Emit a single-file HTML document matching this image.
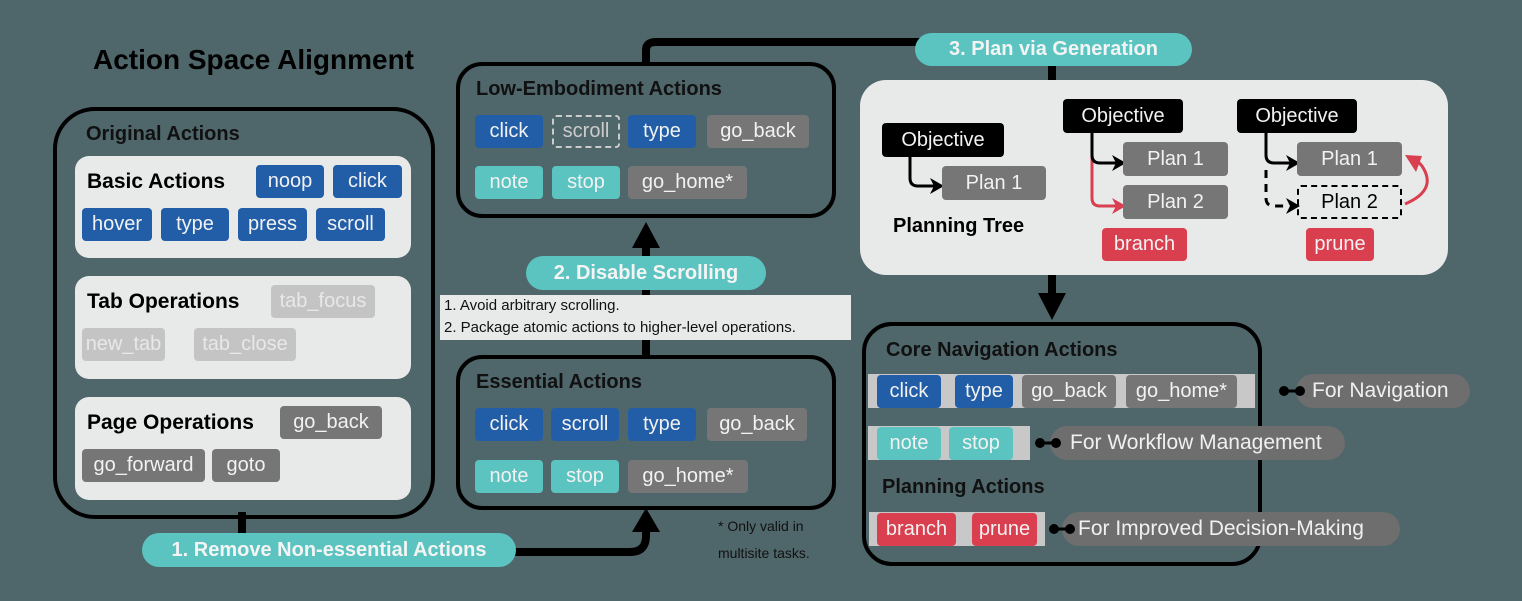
<!DOCTYPE html>
<html><head><meta charset="utf-8"><style>
*{margin:0;padding:0;box-sizing:border-box}
body{width:1522px;height:601px;background:#4f666b;position:relative;overflow:hidden;font-family:"Liberation Sans",sans-serif}
.a{position:absolute}
.t{position:absolute;font-weight:bold;color:#000;white-space:nowrap}
.c{position:absolute;height:33px;border-radius:4px;color:#f2f2f2;font-size:20px;display:flex;align-items:center;justify-content:center;white-space:nowrap}
.b{background:#225ea8}.g{background:#767676}.l{background:#c4c4c4;color:#e8e8e8}.n{background:#5bc4c0}.r{background:#d93f4f}.k{background:#000}
.p{position:absolute;background:#e8e9e9;border-radius:14px}
.box{position:absolute;border:4px solid #000;}
.pill{position:absolute;background:#5bc4c0;color:#f4f4f4;font-weight:bold;font-size:20px;border-radius:17px;display:flex;align-items:center;justify-content:center;white-space:nowrap}
.gp{position:absolute;background:#6e6e6e;color:#f0f0f0;font-size:21px;border-radius:17px;display:flex;align-items:center;padding-left:14px;white-space:nowrap;height:34px}
.s{position:absolute;background:#c8c8c8;height:34px}
</style></head><body>
<svg class="a" style="left:0;top:0" width="1522" height="601">
<g stroke="#000" stroke-width="8" fill="none">
<path d="M242 512 V540"/>
<path d="M512 552 H630 Q646 552 646 536 V520"/>
<path d="M646 355 V240"/>
<path d="M646 62 V50 Q646 42 656 42 H1052 V82"/>
<path d="M1052 272 V300"/>
</g>
<polygon points="646,508 632,532 660,532" fill="#000"/>
<polygon points="646,222 632,248 660,248" fill="#000"/>
<polygon points="1052,320 1038,293 1066,293" fill="#000"/>
</svg>
<div class="t" style="left:93px;top:44px;font-size:28px">Action Space Alignment</div>
<div class="box" style="left:53px;top:107px;width:382px;height:412px;border-radius:42px"></div>
<div class="t" style="left:86px;top:123px;font-size:20px;color:#111">Original Actions</div>
<div class="p" style="left:75px;top:156px;width:336px;height:102px"></div>
<div class="t" style="left:87px;top:170px;font-size:21px">Basic Actions</div>
<div class="c b" style="left:256px;top:165px;width:68px">noop</div>
<div class="c b" style="left:333px;top:165px;width:69px">click</div>
<div class="c b" style="left:82px;top:208px;width:70px">hover</div>
<div class="c b" style="left:161px;top:208px;width:68px">type</div>
<div class="c b" style="left:238px;top:208px;width:69px">press</div>
<div class="c b" style="left:316px;top:208px;width:69px">scroll</div>
<div class="p" style="left:75px;top:276px;width:336px;height:103px"></div>
<div class="t" style="left:87px;top:290px;font-size:21px">Tab Operations</div>
<div class="c l" style="left:271px;top:285px;width:104px">tab_focus</div>
<div class="c l" style="left:82px;top:328px;width:83px">new_tab</div>
<div class="c l" style="left:194px;top:328px;width:102px">tab_close</div>
<div class="p" style="left:75px;top:397px;width:336px;height:103px"></div>
<div class="t" style="left:87px;top:411px;font-size:21px">Page Operations</div>
<div class="c g" style="left:280px;top:406px;width:102px">go_back</div>
<div class="c g" style="left:82px;top:449px;width:123px">go_forward</div>
<div class="c g" style="left:212px;top:449px;width:68px">goto</div>
<div class="pill" style="left:142px;top:533px;width:374px;height:34px">1. Remove Non-essential Actions</div>

<div class="box" style="left:456px;top:355px;width:380px;height:155px;border-radius:26px"></div>
<div class="t" style="left:476px;top:371px;font-size:20px;color:#111">Essential Actions</div>
<div class="c b" style="left:475px;top:408px;width:68px">click</div>
<div class="c b" style="left:551px;top:408px;width:68px">scroll</div>
<div class="c b" style="left:628px;top:408px;width:68px">type</div>
<div class="c g" style="left:707px;top:408px;width:100px">go_back</div>
<div class="c n" style="left:475px;top:460px;width:68px">note</div>
<div class="c n" style="left:551px;top:460px;width:68px">stop</div>
<div class="c g" style="left:628px;top:460px;width:120px">go_home*</div>
<div class="a" style="left:718px;top:513px;font-size:14px;color:#111;line-height:27px">* Only valid in<br>multisite tasks.</div>

<div class="a" style="left:440px;top:295px;width:411px;height:45px;background:#e8e9e9;font-size:15px;color:#111;padding-left:4px;line-height:22px">1. Avoid arbitrary scrolling.<br>2. Package atomic actions to higher-level operations.</div>
<div class="pill" style="left:526px;top:256px;width:240px;height:34px">2. Disable Scrolling</div>

<div class="box" style="left:456px;top:62px;width:380px;height:156px;border-radius:26px"></div>
<div class="t" style="left:476px;top:78px;font-size:20px;color:#111">Low-Embodiment Actions</div>
<div class="c b" style="left:475px;top:115px;width:68px">click</div>
<div class="c" style="left:552px;top:115px;width:68px;border:2px dashed #ccc;color:#ccc">scroll</div>
<div class="c b" style="left:628px;top:115px;width:68px">type</div>
<div class="c g" style="left:707px;top:115px;width:102px">go_back</div>
<div class="c n" style="left:475px;top:166px;width:68px">note</div>
<div class="c n" style="left:552px;top:166px;width:68px">stop</div>
<div class="c g" style="left:628px;top:166px;width:119px">go_home*</div>

<div class="p" style="left:860px;top:80px;width:588px;height:195px;border-radius:26px"></div>
<div class="pill" style="left:915px;top:33px;width:277px;height:33px">3. Plan via Generation</div>
<svg class="a" style="left:860px;top:80px" width="590" height="200">
<g fill="none" stroke-width="3">
<path d="M50 76 V98 Q50 106 58 106 H78" stroke="#000"/>
<path d="M232 52 V118 Q232 126 240 126 H260" stroke="#d93f4f"/>
<path d="M232 52 V75 Q232 83 240 83 H260" stroke="#000"/>
<path d="M406 52 V75 Q406 83 414 83 H434" stroke="#000"/>
<path d="M406 90 V118 Q406 126 414 126 H428" stroke="#000" stroke-dasharray="8 6"/>
<path d="M545 124 Q578 110 562 86 L555 78" stroke="#d93f4f"/>
</g>
<polygon points="84,106 70,98 74,106 70,114" fill="#000"/>
<polygon points="266,83 252,75 256,83 252,91" fill="#000"/>
<polygon points="266,126 252,118 256,126 252,134" fill="#d93f4f"/>
<polygon points="440,83 426,75 430,83 426,91" fill="#000"/>
<polygon points="440,126 426,118 430,126 426,134" fill="#000"/>
<polygon points="545,75 562,76 556,92" fill="#d93f4f"/>
</svg>
<div class="c k" style="left:882px;top:123px;width:122px;height:34px">Objective</div>
<div class="c g" style="left:942px;top:166px;width:104px;height:34px">Plan 1</div>
<div class="t" style="left:893px;top:215px;font-size:20px">Planning Tree</div>
<div class="c k" style="left:1063px;top:99px;width:120px;height:34px">Objective</div>
<div class="c g" style="left:1123px;top:142px;width:105px;height:34px">Plan 1</div>
<div class="c g" style="left:1123px;top:185px;width:105px;height:34px">Plan 2</div>
<div class="c r" style="left:1102px;top:228px;width:85px">branch</div>
<div class="c k" style="left:1237px;top:99px;width:120px;height:34px">Objective</div>
<div class="c g" style="left:1297px;top:142px;width:105px;height:34px">Plan 1</div>
<div class="c" style="left:1297px;top:185px;width:105px;height:34px;border:2px dashed #000;color:#000">Plan 2</div>
<div class="c r" style="left:1306px;top:228px;width:68px">prune</div>

<div class="box" style="left:862px;top:322px;width:400px;height:244px;border-radius:30px"></div>
<div class="t" style="left:886px;top:339px;font-size:20px;color:#111">Core Navigation Actions</div>
<div class="s" style="left:868px;top:374px;width:387px"></div>
<div class="c b" style="left:877px;top:375px;width:64px">click</div>
<div class="c b" style="left:955px;top:375px;width:58px">type</div>
<div class="c g" style="left:1022px;top:375px;width:94px">go_back</div>
<div class="c g" style="left:1126px;top:375px;width:111px">go_home*</div>
<div class="gp" style="left:1296px;top:374px;width:174px;padding-left:16px">For Navigation</div>
<div class="s" style="left:868px;top:426px;width:162px"></div>
<div class="c n" style="left:877px;top:427px;width:64px">note</div>
<div class="c n" style="left:949px;top:427px;width:64px">stop</div>
<div class="gp" style="left:1050px;top:426px;width:295px;padding-left:20px">For Workflow Management</div>
<div class="t" style="left:882px;top:476px;font-size:20px;color:#111">Planning Actions</div>
<div class="s" style="left:869px;top:512px;width:176px"></div>
<div class="c r" style="left:877px;top:513px;width:79px">branch</div>
<div class="c r" style="left:972px;top:513px;width:65px">prune</div>
<div class="gp" style="left:1062px;top:512px;width:338px;padding-left:16px">For Improved Decision-Making</div>
<svg class="a" style="left:0;top:0;z-index:5" width="1522" height="601">
<g stroke="#000" stroke-width="3" fill="none">
<line x1="1284" y1="391" x2="1300" y2="391"/>
<line x1="1040" y1="443" x2="1056" y2="443"/>
<line x1="1054" y1="529" x2="1070" y2="529"/>
</g>
<g fill="#000"><circle cx="1284" cy="391" r="5"/><circle cx="1300" cy="391" r="5"/>
<circle cx="1040" cy="443" r="5"/><circle cx="1056" cy="443" r="5"/>
<circle cx="1054" cy="529" r="5"/><circle cx="1070" cy="529" r="5"/></g>
</svg>
</body></html>
